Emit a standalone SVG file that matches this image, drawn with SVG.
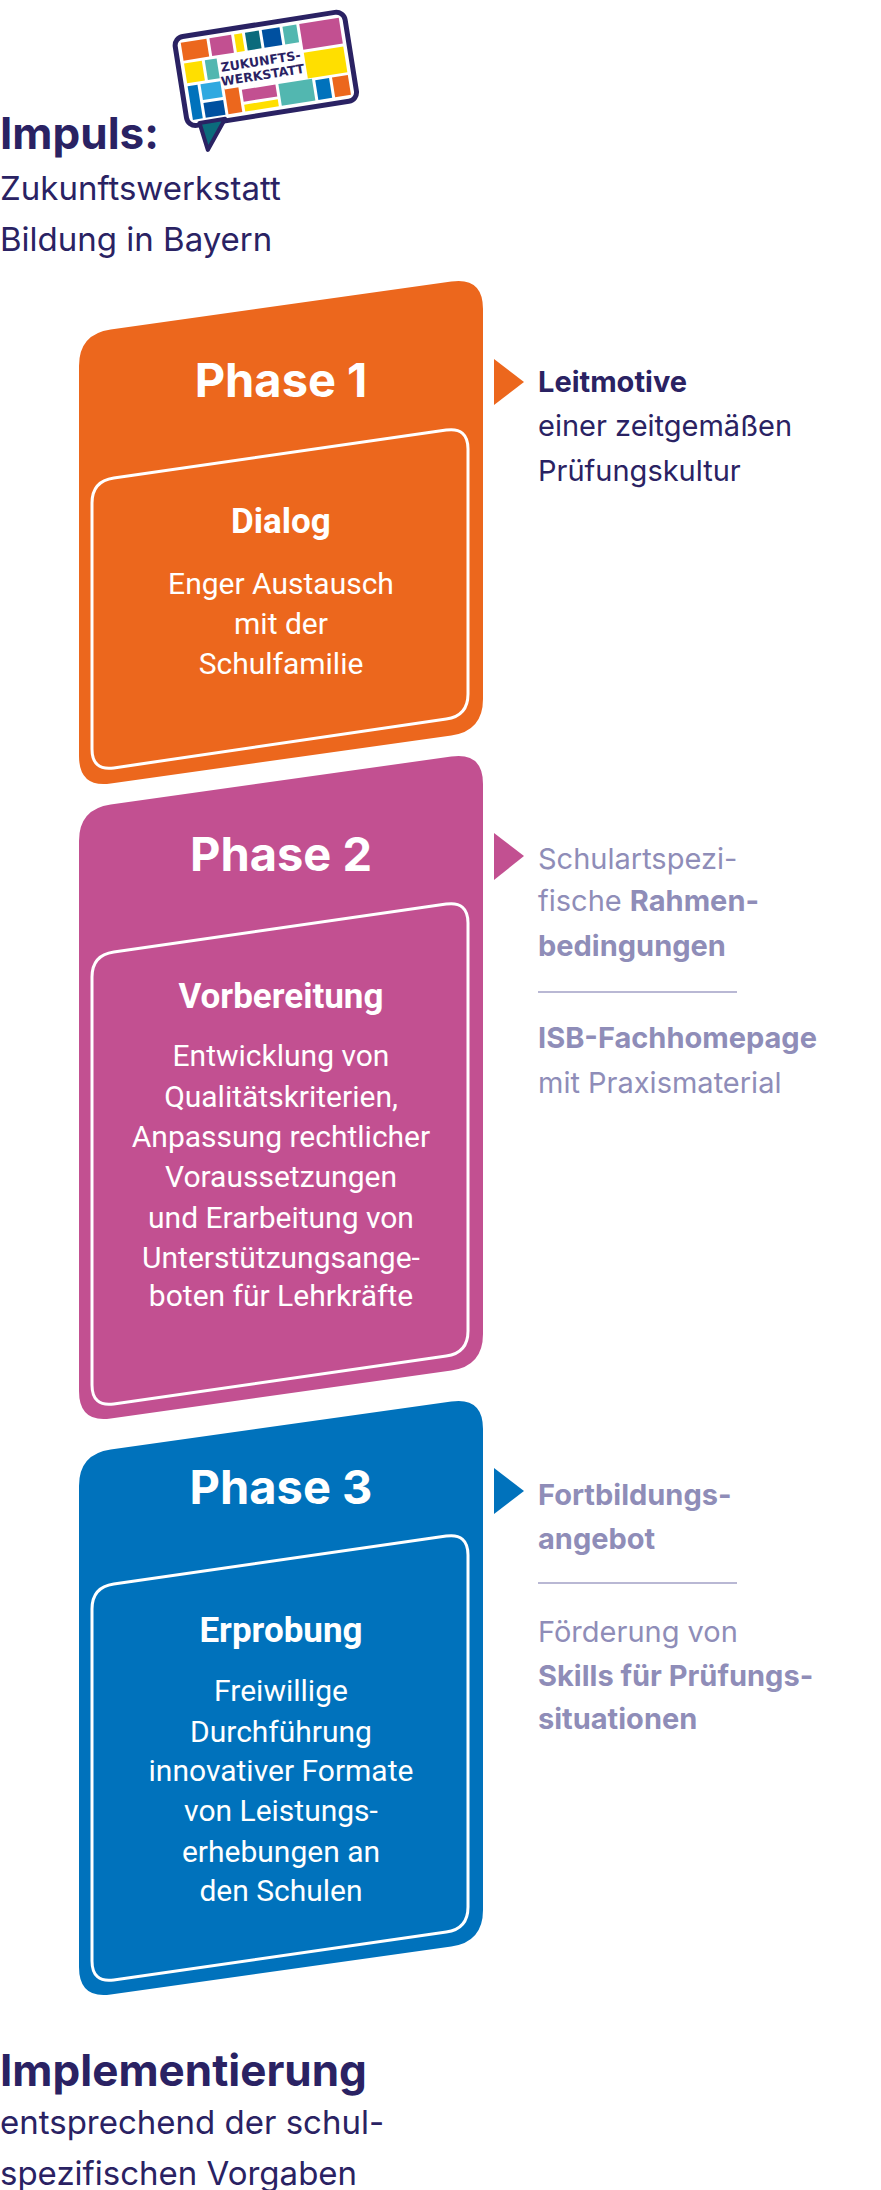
<svg xmlns="http://www.w3.org/2000/svg" width="881" height="2190" viewBox="0 0 881 2190">
<style>
.h{font-family:Inter,"Noto Sans",sans-serif;font-weight:700;fill:#2a2263}
.n{font-family:Inter,"Noto Sans",sans-serif;fill:#2a2263}
.s{font-family:Inter,"Noto Sans",sans-serif;font-size:29px;fill:#8f8db8}
.sb{font-weight:700}
.pt{font-family:Inter,"Noto Sans",sans-serif;font-weight:700;font-size:47px;fill:#fff;text-anchor:middle}
.bt{font-family:Roboto,"Liberation Sans",sans-serif;font-weight:700;font-size:35px;fill:#fff;text-anchor:middle}
.bb{font-family:Roboto,"Liberation Sans",sans-serif;font-size:30px;fill:#fff;text-anchor:middle}
.inner{fill:none;stroke:#fff;stroke-width:3}
.sep{stroke:#b9b8d4;stroke-width:2}
</style>
<g id="logo" transform="rotate(-9 265 70)">
<rect x="180" y="24" width="172" height="90" rx="9" fill="#fff" stroke="#2a2263" stroke-width="5"/>
<path d="M192,112 L196,140 L218,112 Z" fill="#0b6b7c" stroke="#2a2263" stroke-width="4" stroke-linejoin="round"/>
<rect x="186" y="30" width="26" height="18" fill="#ec671d"/><rect x="215" y="30" width="22" height="18" fill="#c25091"/><rect x="240" y="30" width="8" height="18" fill="#ffdf00"/><rect x="251" y="30" width="14" height="18" fill="#0b6b7c"/><rect x="268" y="30" width="18" height="18" fill="#0050a0"/><rect x="289" y="30" width="14" height="18" fill="#52b7b0"/><rect x="306" y="30" width="40" height="26" fill="#c25091"/>
<rect x="186" y="51" width="18" height="20" fill="#ffdf00"/><rect x="207" y="51" width="12" height="20" fill="#52b7b0"/><rect x="306" y="59" width="40" height="26" fill="#ffdf00"/>
<rect x="186" y="74" width="10" height="34" fill="#0072bc"/><rect x="199" y="74" width="20" height="16" fill="#2fa9e0"/><rect x="199" y="93" width="20" height="15" fill="#0050a0"/><rect x="222" y="82" width="14" height="26" fill="#ec671d"/><rect x="239" y="86" width="34" height="12" fill="#c25091"/><rect x="239" y="101" width="34" height="7" fill="#ffdf00"/><rect x="276" y="86" width="34" height="22" fill="#52b7b0"/><rect x="313" y="88" width="14" height="20" fill="#0072bc"/><rect x="330" y="88" width="16" height="20" fill="#ec671d"/>
<rect x="222" y="51" width="81" height="32" fill="#fff"/>
<text x="262" y="65" font-family="'DejaVu Sans','Liberation Sans',sans-serif" font-weight="700" font-size="12.5" fill="#2a2263" text-anchor="middle">ZUKUNFTS-</text>
<text x="262" y="79" font-family="'DejaVu Sans','Liberation Sans',sans-serif" font-weight="700" font-size="12.5" fill="#2a2263" text-anchor="middle">WERKSTATT</text>
</g>
<g id="impuls">
<text class="h" x="0" y="149" font-size="44">Impuls:</text>
<text class="n" x="0" y="200" font-size="33">Zukunftswerkstatt</text>
<text class="n" x="0" y="251" font-size="33">Bildung in Bayern</text>
</g>
<g id="phase1">
<path fill="#ec671d" d="M79,366 Q79,334 110.7,329.5 L451.3,281.5 Q483,277 483,309 L483,699 Q483,731 451.3,735.5 L110.7,783.5 Q79,788 79,756 Z"/>
<path class="inner" d="M92,503 Q92,481 113.8,477.9 L446.2,430.1 Q468,427 468,449 L468,694 Q468,716 446.2,719.1 L113.8,767.9 Q92,771 92,749 Z"/>
<text class="pt" x="281" y="397">Phase 1</text>
<text class="bt" x="281" y="533">Dialog</text>
<text class="bb" x="281" y="594">Enger Austausch</text>
<text class="bb" x="281" y="634">mit der</text>
<text class="bb" x="281" y="674">Schulfamilie</text>
</g>
<g id="phase2">
<path fill="#c25091" d="M79,841 Q79,809 110.7,804.5 L451.3,756.5 Q483,752 483,784 L483,1334 Q483,1366 451.3,1370.5 L110.7,1418.5 Q79,1423 79,1391 Z"/>
<path class="inner" d="M92,977 Q92,955 113.8,951.9 L446.2,904.1 Q468,901 468,923 L468,1331 Q468,1353 446.2,1356.1 L113.8,1403.9 Q92,1407 92,1385 Z"/>
<text class="pt" x="281" y="871">Phase 2</text>
<text class="bt" x="281" y="1008">Vorbereitung</text>
<text class="bb" x="281" y="1066">Entwicklung von</text>
<text class="bb" x="281" y="1107">Qualitätskriterien,</text>
<text class="bb" x="281" y="1147">Anpassung rechtlicher</text>
<text class="bb" x="281" y="1187">Voraussetzungen</text>
<text class="bb" x="281" y="1228">und Erarbeitung von</text>
<text class="bb" x="281" y="1268">Unterstützungsange-</text>
<text class="bb" x="281" y="1306">boten für Lehrkräfte</text>
</g>
<g id="phase3">
<path fill="#0072bc" d="M79,1486 Q79,1454 110.7,1449.5 L451.3,1401.5 Q483,1397 483,1429 L483,1910 Q483,1942 451.3,1946.5 L110.7,1994.5 Q79,1999 79,1967 Z"/>
<path class="inner" d="M92,1609 Q92,1587 113.8,1583.9 L446.2,1536.1 Q468,1533 468,1555 L468,1907 Q468,1929 446.2,1932.1 L113.8,1979.9 Q92,1983 92,1961 Z"/>
<text class="pt" x="281" y="1504">Phase 3</text>
<text class="bt" x="281" y="1642">Erprobung</text>
<text class="bb" x="281" y="1701">Freiwillige</text>
<text class="bb" x="281" y="1742">Durchführung</text>
<text class="bb" x="281" y="1781">innovativer Formate</text>
<text class="bb" x="281" y="1821">von Leistungs-</text>
<text class="bb" x="281" y="1862">erhebungen an</text>
<text class="bb" x="281" y="1901">den Schulen</text>
</g>
<g id="connectors">
<polygon points="494,359 524,382 494,405" fill="#ec671d"/>
<polygon points="494,833 524,856 494,880" fill="#c25091"/>
<polygon points="494,1468 524,1491 494,1514" fill="#0072bc"/>
<line class="sep" x1="538" y1="992" x2="737" y2="992"/>
<line class="sep" x1="538" y1="1583" x2="737" y2="1583"/>
</g>
<g id="side1">
<text class="h" x="538" y="392" font-size="29">Leitmotive</text>
<text class="n" x="538" y="436" font-size="29">einer zeitgemäßen</text>
<text class="n" x="538" y="481" font-size="29">Prüfungskultur</text>
</g>
<g id="side2">
<text class="s" x="538" y="869">Schulartspezi-</text>
<text class="s" x="538" y="911">fische <tspan class="sb">Rahmen-</tspan></text>
<text class="s sb" x="538" y="956">bedingungen</text>
<text class="s sb" x="538" y="1048">ISB-Fachhomepage</text>
<text class="s" x="538" y="1093">mit Praxismaterial</text>
</g>
<g id="side3">
<text class="s sb" x="538" y="1505">Fortbildungs-</text>
<text class="s sb" x="538" y="1549">angebot</text>
<text class="s" x="538" y="1642">Förderung von</text>
<text class="s sb" x="538" y="1686">Skills für Prüfungs-</text>
<text class="s sb" x="538" y="1729">situationen</text>
</g>
<g id="implementierung">
<text class="h" x="0" y="2086" font-size="44">Implementierung</text>
<text class="n" x="0" y="2134" font-size="33">entsprechend der schul-</text>
<text class="n" x="0" y="2185" font-size="33">spezifischen Vorgaben</text>
</g>
</svg>
